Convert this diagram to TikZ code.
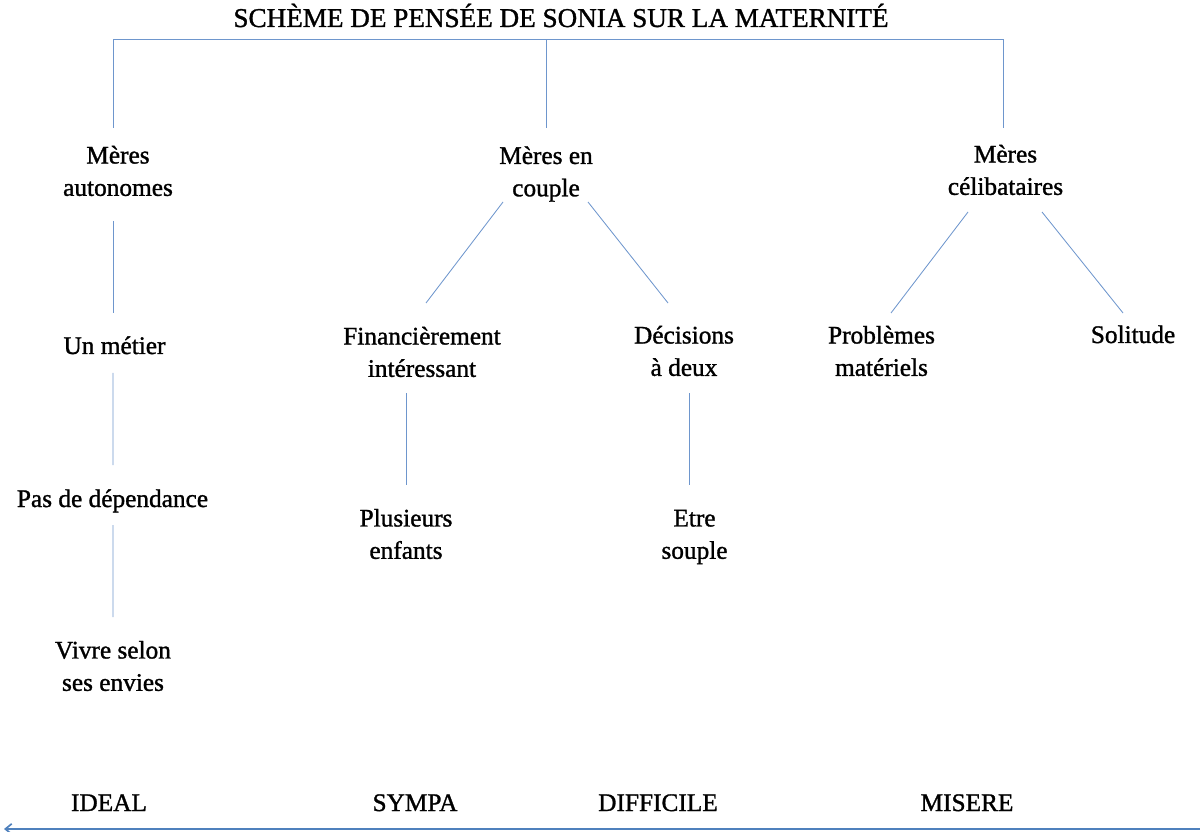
\documentclass[tikz,border=0pt]{standalone}
\usepackage{fontspec}
\setmainfont[FakeBold=1.2]{Liberation Serif}
\usepackage{xcolor}
\usepackage{tikz}
\usetikzlibrary{arrows.meta}
\definecolor{bleulien}{RGB}{110,150,205}
\definecolor{bleuaxe}{RGB}{79,129,189}
\tikzset{%
  idee/.style={
    align=center,
    inner sep=0pt,
    font=\fontsize{18}{23}\selectfont
  },
  lien/.style={
    draw=bleulien,
    line width=0.6pt
  },
  axe/.style={
    draw=bleuaxe,
    line width=1.2pt,
    -{Straight Barb[length=1.6mm,width=2.6mm]}
  },
}

\begin{document}
\begin{tikzpicture}[x=0.025cm,y=-0.025cm]
    \useasboundingbox (0,0) rectangle (1200,832);

    \node (titre) [idee,anchor=base,font=\fontsize{19.3}{23}\selectfont] at (561,27)
    {SCHÈME DE PENSÉE DE SONIA SUR LA MATERNITÉ};

    \node (aut) [idee] at (118,171) {Mères\\autonomes};
    \node (couple) [idee] at (546,174) {Mères en\\couple};
    \node (cel) [idee] at (1005.5,170) {Mères\\célibataires};

    \node (metier) [idee,anchor=base] at (114.5,354) {Un métier};
    \node (dep) [idee,anchor=base] at (112.5,507) {Pas de dépendance};
    \node (vivre) [idee] at (113,666) {Vivre selon\\ses envies};

    \node (fin) [idee] at (422,352) {Financièrement\\intéressant};
    \node (dec) [idee] at (684,351) {Décisions\\à deux};
    \node (plus) [idee] at (406,534) {Plusieurs\\enfants};
    \node (etre) [idee] at (694.5,537) {Etre\\souple};

    \node (prob) [idee] at (881.5,351) {Problèmes\\matériels};
    \node (sol) [idee,anchor=base] at (1133,343) {Solitude};

    \node (ideal) [idee,anchor=base] at (109,811) {IDEAL};
    \node (sympa) [idee,anchor=base] at (415,811) {SYMPA};
    \node (diff) [idee,anchor=base] at (658,811) {DIFFICILE};
    \node (misere) [idee,anchor=base] at (967,811) {MISERE};

    % accolade du titre
    \draw   [lien] ([shift={(-5,-43)}]aut.center) |- ([shift={(-2.5,-131)}]cel.center)
                   -- ([shift={(-2.5,-42)}]cel.center);
    \draw   [lien] ([shift={(0,-46)}]couple.center) -- ([shift={(0,-135)}]couple.center);

    \draw   [lien] ([shift={(-5,50)}]aut.center) -- ([shift={(-1.5,-41)}]metier.base);
    \draw   [lien] ([shift={(-1.5,19)}]metier.base) -- ([shift={(0.5,-42)}]dep.base);
    \draw   [lien] ([shift={(0.5,18)}]dep.base) -- ([shift={(0,-49)}]vivre.center);

    \draw   [lien] ([shift={(-43,28)}]couple.center) -- ([shift={(4,-49)}]fin.center);
    \draw   [lien] ([shift={(42,28)}]couple.center) -- ([shift={(-16,-48)}]dec.center);
    \draw   [lien] ([shift={(-16,41)}]fin.center) -- ([shift={(0,-49)}]plus.center);
    \draw   [lien] ([shift={(5,42)}]dec.center) -- ([shift={(-5.5,-52)}]etre.center);

    \draw   [lien] ([shift={(-37.5,42)}]cel.center) -- ([shift={(9.5,-38)}]prob.center);
    \draw   [lien] ([shift={(36.5,42)}]cel.center) -- ([shift={(-10,-30)}]sol.base);

    % echelle
    \coordinate (axe droite) at (1200,829);
    \coordinate (axe gauche) at (4,829);
    \draw   [axe] (axe droite) -- (axe gauche);
\end{tikzpicture}
\end{document}
